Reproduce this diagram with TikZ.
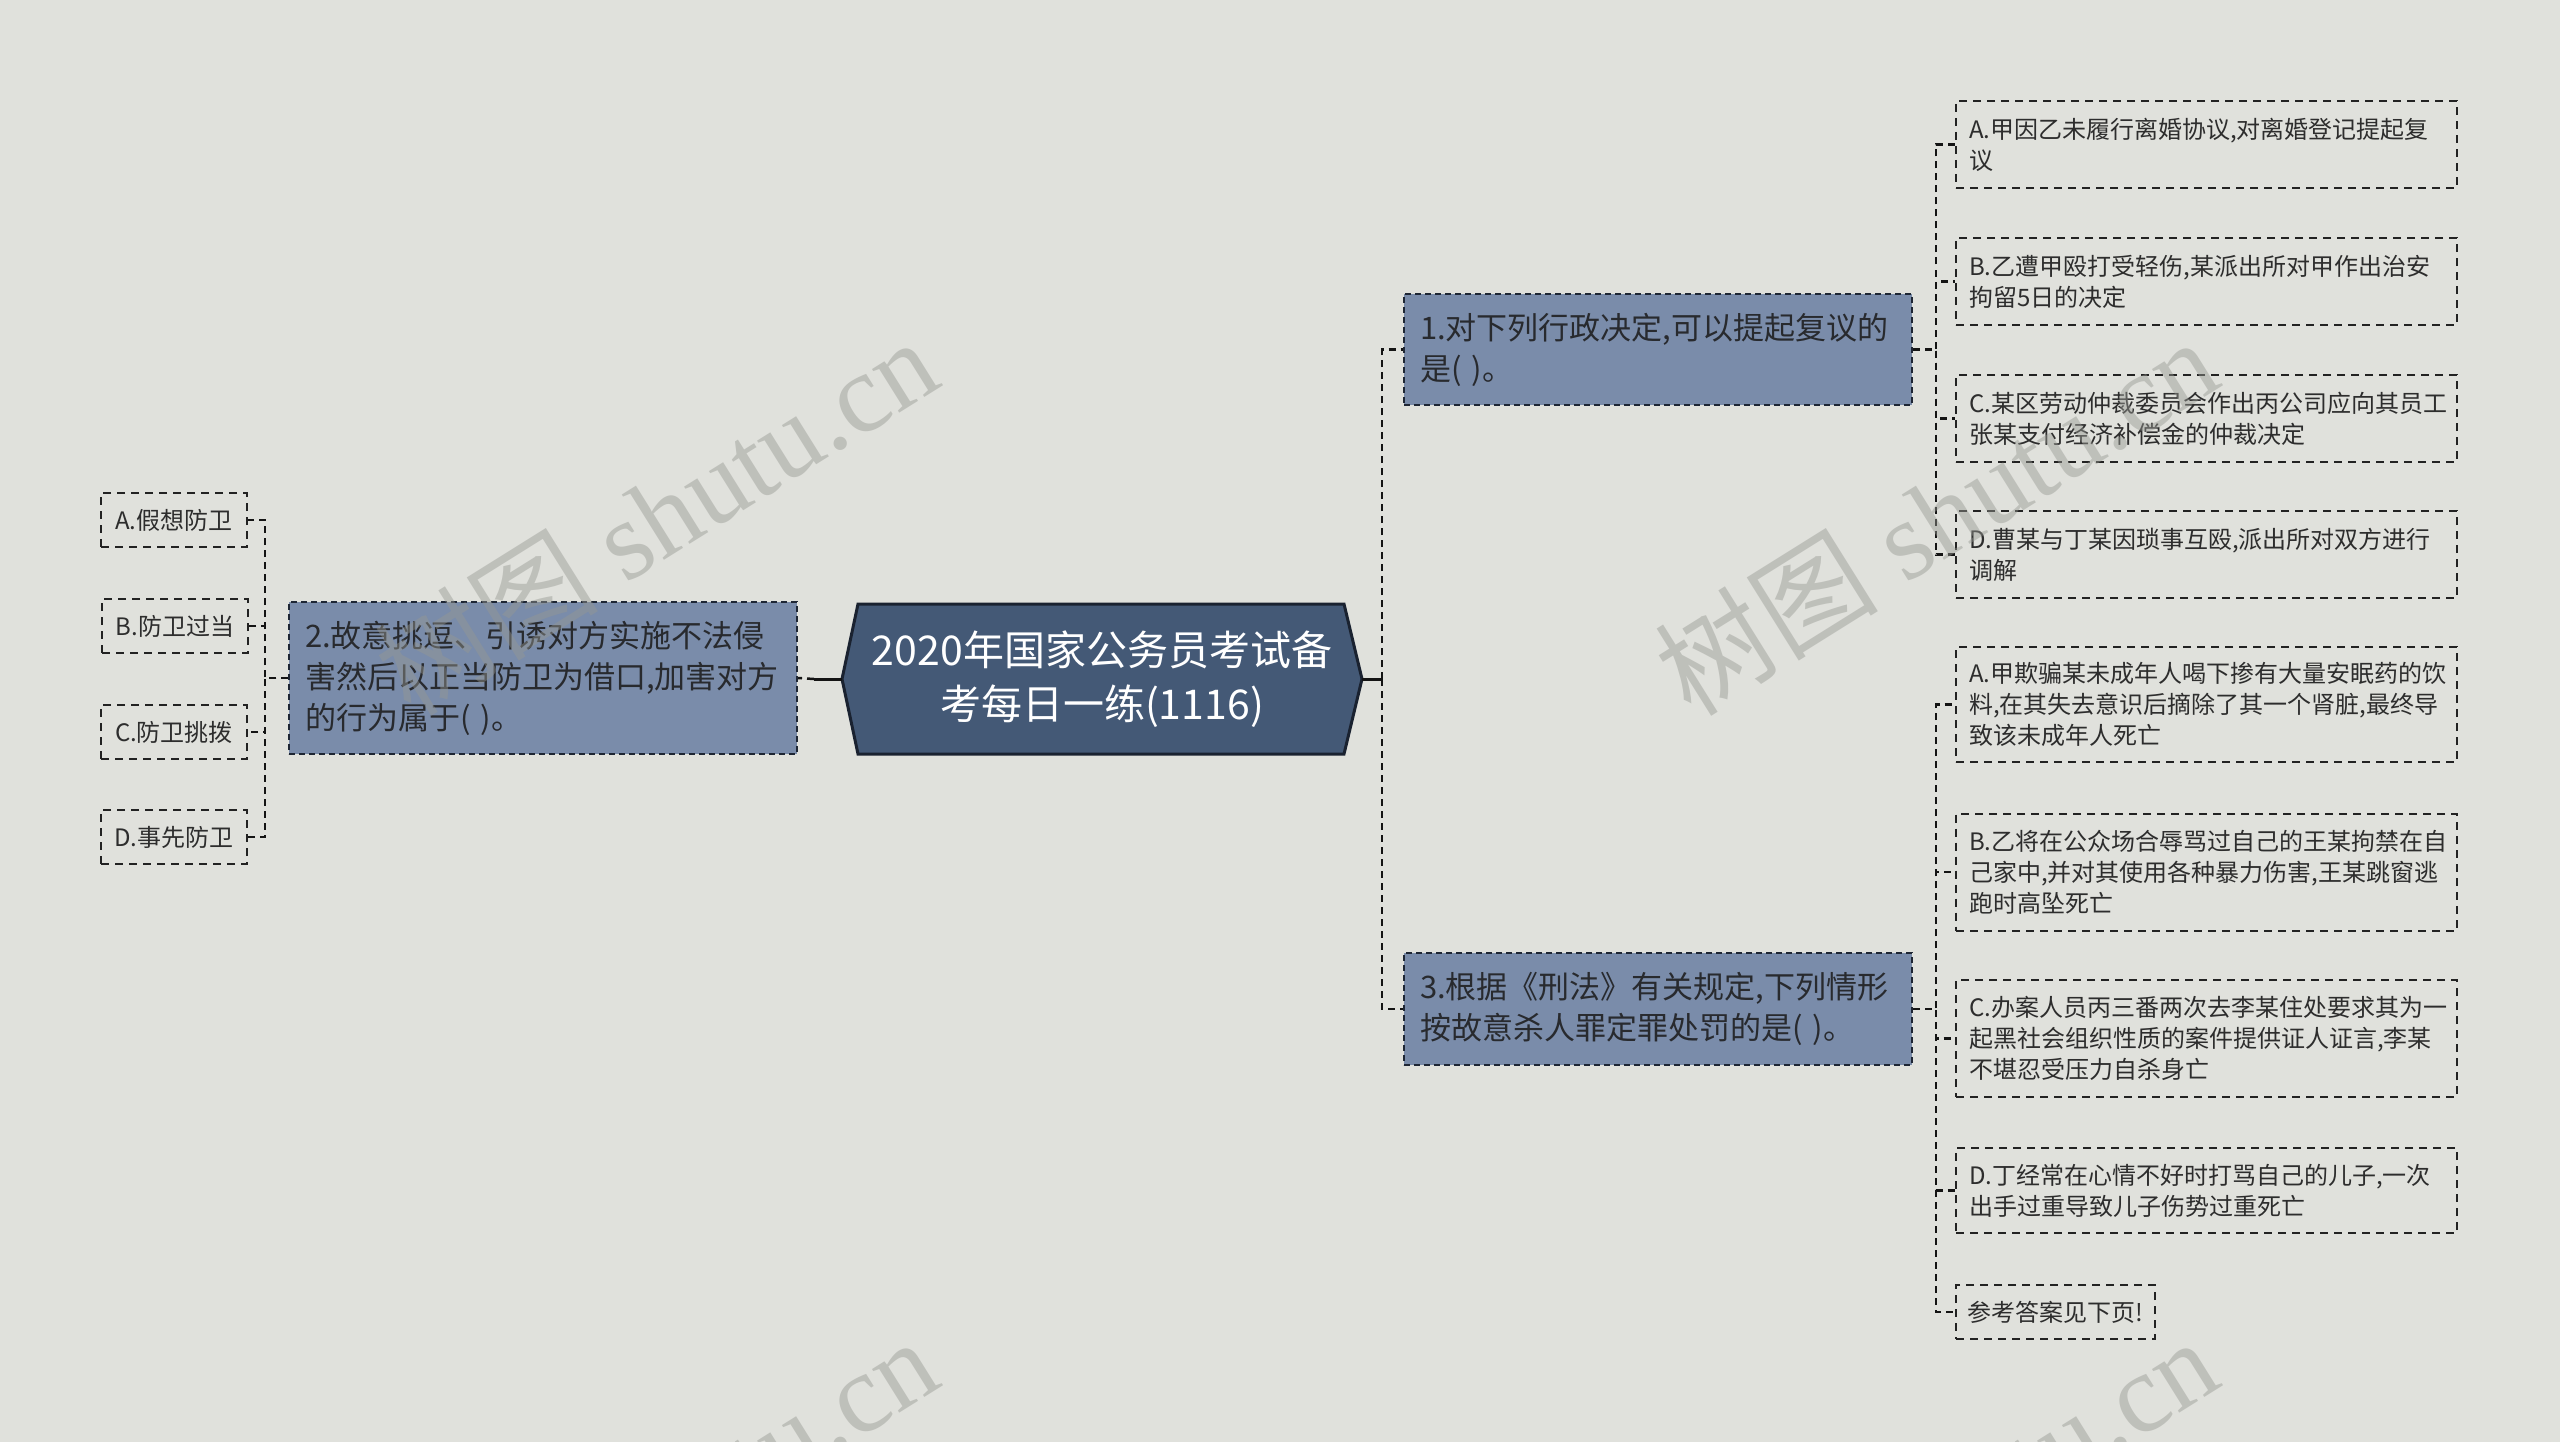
\documentclass[tikz,border=0pt]{standalone}
\usepackage{fontspec}
\setmainfont{Noto Sans CJK SC}
\newfontfamily\wmserif{Liberation Serif}
\newfontfamily\wmcjk{Noto Sans CJK SC}
\definecolor{bgc}{RGB}{224,225,220}
\definecolor{rootfill}{RGB}{68,89,118}
\definecolor{rootline}{RGB}{26,34,48}
\definecolor{qfill}{RGB}{122,140,170}
\definecolor{qline}{RGB}{30,38,52}
\definecolor{qtext}{RGB}{40,42,46}
\definecolor{leafline}{RGB}{34,34,34}
\definecolor{leaftext}{RGB}{45,45,45}
\definecolor{connc}{RGB}{20,20,20}
\definecolor{wmc}{RGB}{150,152,146}
\begin{document}
\begin{tikzpicture}[x=1pt,y=-1pt,
  rootnode/.style={rectangle, inner sep=0pt, minimum width=486pt, minimum height=150pt,
    text=white, align=center, font=\fontsize{41}{54}\selectfont},
  qbox/.style={rectangle, draw=qline, dash pattern=on 6pt off 4pt, line width=2pt,
    fill=qfill, text=qtext, font=\fontsize{31}{41}\selectfont,
    text width=476pt, inner xsep=16pt, inner ysep=0pt, align=left},
  leafbox/.style={rectangle, draw=leafline, dash pattern=on 8pt off 6pt, line width=2pt,
    text=leaftext, font=\fontsize{24}{31}\selectfont,
    text width=475pt, inner xsep=13pt, inner ysep=0pt, align=left},
  smallleaf/.style={rectangle, draw=leafline, dash pattern=on 8pt off 6pt, line width=2pt,
    text=leaftext, font=\fontsize{24}{31}\selectfont, align=center,
    minimum width=146pt, minimum height=54pt, inner sep=0pt},
  conn/.style={draw=connc, line width=2.5pt, dash pattern=on 7pt off 5pt},
  stub/.style={draw=connc, line width=3pt},
  wm/.style={text=wmc, opacity=0.45, rotate=32, anchor=base east, inner sep=0pt,
    font=\fontsize{112}{112}\wmserif}
]
\useasboundingbox (0,0) rectangle (2560,1442);
\fill[bgc] (0,0) rectangle (2560,1442);

% root hexagon
\coordinate (rootE) at (1362,679);
\coordinate (rootW) at (842,679);
\filldraw[fill=rootfill, draw=rootline, line width=3pt, line join=miter]
  (858,604) -- (1344,604) -- (rootE) -- (1344,754) -- (858,754) -- (rootW) -- cycle;
\node[rootnode] (root) at (1102,679) {2020年国家公务员考试备\\考每日一练(1116)};

% main questions
\node[qbox, minimum height=111pt] (q1) at (1658,349.5) {1.对下列行政决定,可以提起复议的\\是( )。};
\node[qbox, minimum height=112pt] (q3) at (1658,1009) {3.根据《刑法》有关规定,下列情形\\按故意杀人罪定罪处罚的是( )。};
\node[qbox, minimum height=152pt] (q2) at (543,678) {2.故意挑逗、引诱对方实施不法侵\\害然后以正当防卫为借口,加害对方\\的行为属于( )。};

% Q1 leaves
\node[leafbox, minimum height=87pt] (q1a) at (2206.5,144.5) {A.甲因乙未履行离婚协议,对离婚登记提起复\\议};
\node[leafbox, minimum height=87pt] (q1b) at (2206.5,281.5) {B.乙遭甲殴打受轻伤,某派出所对甲作出治安\\拘留5日的决定};
\node[leafbox, minimum height=87pt] (q1c) at (2206.5,418.5) {C.某区劳动仲裁委员会作出丙公司应向其员工\\张某支付经济补偿金的仲裁决定};
\node[leafbox, minimum height=87pt] (q1d) at (2206.5,554.5) {D.曹某与丁某因琐事互殴,派出所对双方进行\\调解};

% Q3 leaves
\node[leafbox, minimum height=115pt] (q3a) at (2206.5,704.5) {A.甲欺骗某未成年人喝下掺有大量安眠药的饮\\料,在其失去意识后摘除了其一个肾脏,最终导\\致该未成年人死亡};
\node[leafbox, minimum height=117pt] (q3b) at (2206.5,872) {B.乙将在公众场合辱骂过自己的王某拘禁在自\\己家中,并对其使用各种暴力伤害,王某跳窗逃\\跑时高坠死亡};
\node[leafbox, minimum height=117pt] (q3c) at (2206.5,1038.5) {C.办案人员丙三番两次去李某住处要求其为一\\起黑社会组织性质的案件提供证人证言,李某\\不堪忍受压力自杀身亡};
\node[leafbox, minimum height=85pt] (q3d) at (2206.5,1190.5) {D.丁经常在心情不好时打骂自己的儿子,一次\\出手过重导致儿子伤势过重死亡};
\node[smallleaf, minimum width=199pt] (q3e) at (2055.5,1312) {参考答案见下页!};

% Q2 leaves
\node[smallleaf] (q2a) at (174,520) {A.假想防卫};
\node[smallleaf] (q2b) at (175,626) {B.防卫过当};
\node[smallleaf] (q2c) at (174,732) {C.防卫挑拨};
\node[smallleaf] (q2d) at (174,837) {D.事先防卫};

% connectors root -> questions
\draw[stub] (rootE) -- ++(20,0) coordinate (rj);
\draw[conn] (rj) |- (q1.west);
\draw[conn] (rj) |- (q3.west);
\draw[stub] (rootW) -- ++(-28,0) coordinate (lj);
\draw[conn] (lj) -- (q2.east);

% question -> leaves
\foreach \n in {q1a,q1b,q1c,q1d} {\draw[conn] (q1.east) -- ++(23,0) |- (\n.west);}
\foreach \n in {q3a,q3b,q3c,q3d,q3e} {\draw[conn] (q3.east) -- ++(23,0) |- (\n.west);}
\foreach \n in {q2a,q2b,q2c,q2d} {\draw[conn] (q2.west) -- ++(-23,0) |- (\n.east);}

% watermarks
\node[wm] (wm1) at (945,385) {{\wmcjk 树图} shutu.cn};
\node[wm] (wm2) at (2225,385) {{\wmcjk 树图} shutu.cn};
\node[wm] (wm3) at (945,1385) {{\wmcjk 树图} shutu.cn};
\node[wm] (wm4) at (2225,1385) {{\wmcjk 树图} shutu.cn};
\end{tikzpicture}
\end{document}
